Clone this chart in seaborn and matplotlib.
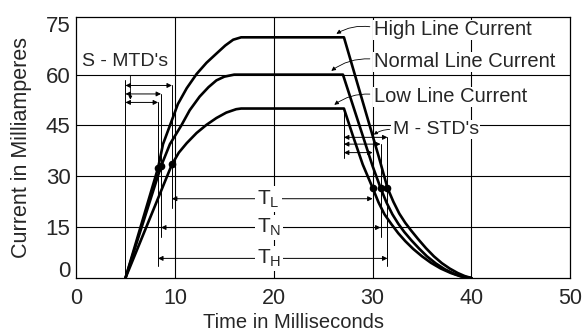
import pandas as pd
import matplotlib
matplotlib.use("Agg")
import matplotlib.pyplot as plt
import seaborn as sns

# current pulses (time in ms, current in mA)
high_t = [5, 8.3, 8.8, 9.5, 10.3, 11.2, 12.2, 13.2, 14.2, 15.1, 15.9, 16.7,
          27.1, 28.3, 29.5, 30.6, 31.5, 32.1, 32.7, 33.3, 33.9, 34.6, 35.4,
          36.2, 37.0, 37.8, 38.6, 39.3, 40]
high_i = [0, 32.5, 39.5, 45, 51.3, 56, 60.2, 63.5, 66.2, 68.6, 70.3, 71,
          71, 59, 47, 36, 26.6, 22.5, 19, 16.3, 14, 11.5, 8.8,
          6.4, 4.4, 2.8, 1.5, 0.6, 0]

norm_t = [5, 8.6, 9.5, 10.65, 11.5, 12.5, 13.4, 14.2, 15.0, 16.0,
          27.0, 28.0, 29.0, 30.0, 30.8, 31.4, 32.0, 32.6, 33.2, 33.9, 34.7,
          35.5, 36.4, 37.3, 38.2, 39.1, 40]
norm_i = [0, 33, 39.5, 45, 49.5, 53.5, 56.3, 58.3, 59.4, 60,
          60, 51, 42, 33, 26.6, 22.3, 18.8, 16.0, 13.6, 11.2, 8.7,
          6.4, 4.3, 2.6, 1.3, 0.4, 0]

low_t = [5, 9.7, 10.4, 11.2, 12.2, 13.2, 14.2, 15.2, 16.2, 16.7,
         27.1, 28.0, 29.0, 30.0, 30.6, 31.2, 31.9, 32.6, 33.3, 34.1, 35.0,
         35.9, 36.9, 37.9, 38.9, 40]
low_i = [0, 33.5, 37, 39.8, 42.8, 45.2, 47.2, 48.8, 49.8, 50,
         50, 42, 33.5, 26.6, 22.3, 18.8, 15.9, 13.2, 10.9, 8.6, 6.4,
         4.5, 2.8, 1.5, 0.5, 0]

# marked points (high, normal, low)
rise_t = [8.3, 8.6, 9.7]
rise_i = [32.5, 33, 33.5]
fall_t = [31.5, 30.8, 30.0]
fall_i = [26.6, 26.6, 26.6]
t_names = ["T$_\\mathregular{H}$", "T$_\\mathregular{N}$", "T$_\\mathregular{L}$"]
curve_names = ["High Line Current", "Normal Line Current", "Low Line Current"]
plateaus = [71, 60, 50]

df = pd.concat([
    pd.DataFrame({"t": high_t, "i": high_i, "line": "High"}),
    pd.DataFrame({"t": norm_t, "i": norm_i, "line": "Normal"}),
    pd.DataFrame({"t": low_t, "i": low_i, "line": "Low"}),
])

sns.set_style("white")
plt.rcParams["font.family"] = ["Liberation Sans", "DejaVu Sans"]
plt.rcParams["mathtext.fontset"] = "custom"
plt.rcParams["mathtext.rm"] = "Liberation Sans"

fig = plt.figure(figsize=(5.82, 3.33), dpi=100)
ax = fig.add_axes([0.1306, 0.165, 0.8494, 0.784])

# grid
for x in [10, 20, 30, 40]:
    ax.axvline(x, color="k", lw=0.8, zorder=1)
for y in [15, 30, 45, 60]:
    ax.axhline(y, color="k", lw=0.8, zorder=1)

sns.lineplot(data=df, x="t", y="i", hue="line", palette=["k", "k", "k"],
             lw=1.9, legend=False, ax=ax, zorder=3)
ax.plot(rise_t, rise_i, "o", color="k", ms=4.5, zorder=4)
ax.plot(fall_t, fall_i, "o", color="k", ms=4.5, zorder=4)

arrow = dict(arrowstyle="<|-|>", lw=0.7, color="k", shrinkA=0, shrinkB=0,
             mutation_scale=7)
txt_font = 14.5

# S-MTD's brackets
smtd_y = [51.8, 54.3, 56.8]
ax.plot([5, 5], [0, 58.3], color="k", lw=0.7)
for k in range(3):
    ax.annotate("", xy=(rise_t[k], smtd_y[k]), xytext=(5, smtd_y[k]), arrowprops=arrow)
ax.annotate("", xy=(5.5, 51.8), xytext=(5.5, 60.5),
            arrowprops=dict(arrowstyle="-|>", lw=0.6, color="k", mutation_scale=5))
ax.text(5.0, 64.0, "S - MTD's", ha="center", va="center", fontsize=14)

# M-STD's brackets
mstd_y = [41.5, 39.5, 37.0]
ax.plot([27.1, 27.1], [35.5, 50], color="k", lw=0.7)
for k in range(3):
    ax.annotate("", xy=(fall_t[k], mstd_y[k]), xytext=(27.1, mstd_y[k]), arrowprops=arrow)
ax.annotate("", xy=(29.9, 41.8), xytext=(32.0, 43.8),
            arrowprops=dict(arrowstyle="-|>", lw=0.6, color="k", mutation_scale=5,
                            connectionstyle="arc3,rad=0.2"))
ax.text(36.4, 43.8, "M - STD's", ha="center", va="center", fontsize=14,
        bbox=dict(fc="white", ec="none", pad=1))

# delay arrows T_H, T_N, T_L
t_y = [5.8, 14.9, 23.4]
t_bot = [3.6, 12.0, 20.8]
for k in range(3):
    ax.plot([rise_t[k], rise_t[k]], [t_bot[k], smtd_y[k]], color="k", lw=0.7)
    ax.plot([fall_t[k], fall_t[k]], [t_bot[k], mstd_y[k]], color="k", lw=0.7)
    ax.annotate("", xy=(fall_t[k], t_y[k]), xytext=(rise_t[k], t_y[k]), arrowprops=arrow)
    ax.text(19.5, t_y[k], t_names[k], ha="center", va="center", fontsize=15,
            bbox=dict(fc="white", ec="none", pad=1.5))

# curve labels
label_y = [73.2, 63.8, 53.4]
tip_x = [26.1, 25.6, 25.9]
for k in range(3):
    ax.text(30.1, label_y[k], curve_names[k], ha="left", va="center", fontsize=txt_font,
            bbox=dict(fc="white", ec="none", pad=0.5))
    ax.annotate("", xy=(tip_x[k], plateaus[k] + 0.6), xytext=(30.0, label_y[k] + 0.8),
                arrowprops=dict(arrowstyle="-|>", lw=0.6, color="k", mutation_scale=6,
                                connectionstyle="arc3,rad=0.2"))

ax.set_xlim(0, 50)
ax.set_ylim(0, 77)
ax.set_xticks([0, 10, 20, 30, 40, 50])
ax.set_yticks([15, 30, 45, 60, 75])
ax.tick_params(axis="y", length=0, labelsize=16, pad=4)
ax.tick_params(axis="x", length=0, labelsize=15.5, pad=7)
ax.text(-0.6, 1.8, "0", ha="right", va="center", fontsize=16)
ax.set_xlabel("Time in Milliseconds", fontsize=14.5, labelpad=3)
ax.xaxis.set_label_coords(0.44, -0.135)
ax.set_ylabel("Current in Milliamperes", fontsize=15.5, labelpad=10)
for s in ax.spines.values():
    s.set_color("k")
    s.set_linewidth(0.9)

fig.savefig("out.png", dpi=100)
